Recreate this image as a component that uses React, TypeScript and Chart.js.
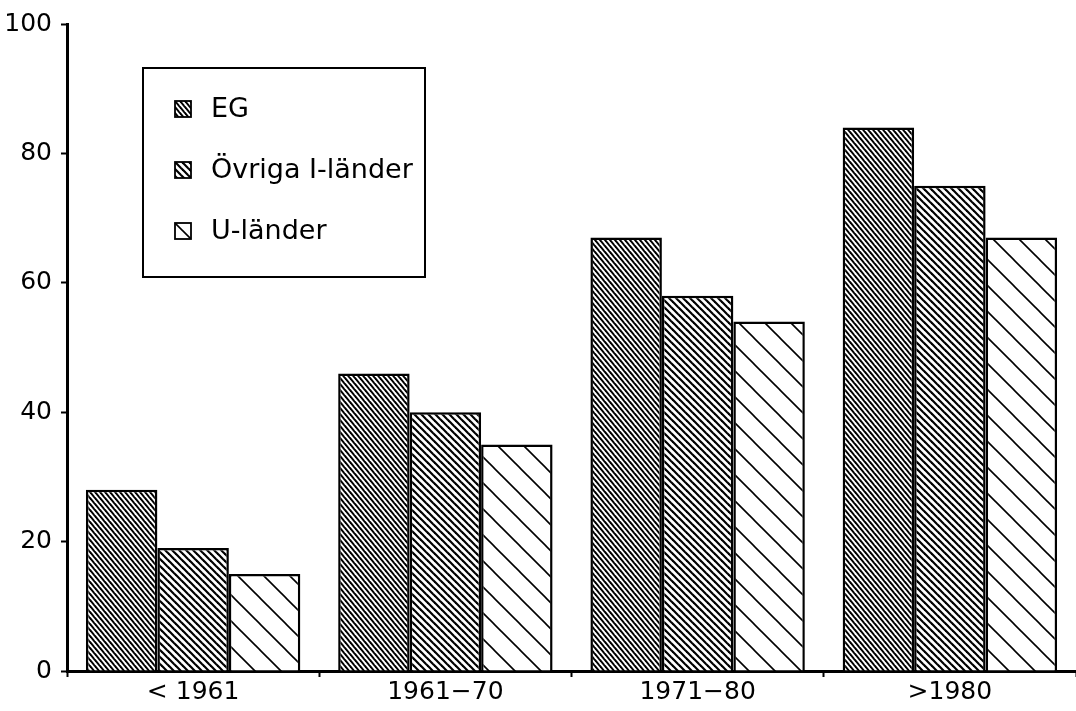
import React, { useEffect, useRef } from "react";
import { Chart, registerables } from "chart.js";

Chart.register(...registerables);

const categories = ["< 1961", "1961\u221270", "1971\u221280", ">1980"];
const seriesNames = ["EG", "Övriga I-länder", "U-länder"];
const egValues = [28, 46, 67, 84];
const ovrigaValues = [19, 40, 58, 75];
const ulanderValues = [15, 35, 54, 67];
const yTicks = [0, 20, 40, 60, 80, 100];

const FONT = "DejaVu Sans";

function makeHatch(w: number, h: number, lw: number): CanvasPattern | string {
  const c = document.createElement("canvas");
  c.width = w;
  c.height = h;
  const ctx = c.getContext("2d");
  if (!ctx) return "#fff";
  ctx.fillStyle = "#fff";
  ctx.fillRect(0, 0, w, h);
  ctx.strokeStyle = "#000";
  ctx.lineWidth = lw;
  ctx.lineCap = "square";
  for (const off of [-w, 0, w]) {
    ctx.beginPath();
    ctx.moveTo(off, 0);
    ctx.lineTo(off + w, h);
    ctx.stroke();
  }
  const p = ctx.createPattern(c, "repeat");
  return p || "#fff";
}

export default function App() {
  const ref = useRef<HTMLCanvasElement | null>(null);

  useEffect(() => {
    const canvas = ref.current;
    if (!canvas) return;
    const patterns = [makeHatch(5, 6, 2), makeHatch(7, 7, 2.2), makeHatch(26, 26, 1.6)];

    const legendPlugin = {
      id: "boxLegend",
      afterDraw(chart: any) {
        const ctx = chart.ctx as CanvasRenderingContext2D;
        ctx.save();
        const bx = 143, by = 68, bw = 282, bh = 209;
        ctx.fillStyle = "#fff";
        ctx.fillRect(bx, by, bw, bh);
        ctx.strokeStyle = "#000";
        ctx.lineWidth = 2;
        ctx.strokeRect(bx, by, bw, bh);
        const rows = [109, 170, 231];
        chart.data.datasets.forEach((ds: any, i: number) => {
          const sx = 175, sy = rows[i] - 8, s = 16;
          ctx.save();
          ctx.translate(sx, sy);
          ctx.fillStyle = ds.backgroundColor;
          ctx.fillRect(0, 0, s, s);
          ctx.strokeStyle = "#000";
          ctx.lineWidth = 1.8;
          ctx.strokeRect(0, 0, s, s);
          ctx.restore();
          ctx.fillStyle = "#000";
          ctx.font = `27px "${FONT}"`;
          ctx.textBaseline = "middle";
          ctx.textAlign = "left";
          ctx.fillText(ds.label, 211, rows[i] + 1);
        });
        ctx.restore();
      },
    };

    const chart = new Chart(canvas, {
      type: "bar",
      data: {
        labels: categories,
        datasets: [
          { label: seriesNames[0], data: egValues, backgroundColor: patterns[0] as any },
          { label: seriesNames[1], data: ovrigaValues, backgroundColor: patterns[1] as any },
          { label: seriesNames[2], data: ulanderValues, backgroundColor: patterns[2] as any },
        ],
      },
      options: {
        animation: false,
        responsive: false,
        maintainAspectRatio: false,
        devicePixelRatio: 1,
        layout: { padding: { top: 24, right: 0, left: 0, bottom: 0 } },
        datasets: {
          bar: {
            borderColor: "#000",
            borderWidth: 2.5,
            barPercentage: 1,
            categoryPercentage: 0.85,
          },
        },
        plugins: {
          legend: { display: false },
          tooltip: { enabled: false },
          title: { display: false },
        },
        scales: {
          x: {
            grid: {
              display: true,
              drawOnChartArea: false,
              drawTicks: true,
              tickLength: 6,
              tickColor: "#000",
              tickWidth: 2,
              offset: true,
            },
            border: { display: true, color: "#000", width: 3 },
            ticks: {
              color: "#000",
              font: { family: FONT, size: 25 },
              padding: 0,
              maxRotation: 0,
              autoSkip: false,
            },
            afterFit(scale: any) {
              scale.height = 40;
            },
          },
          y: {
            min: 0,
            max: 100,
            afterBuildTicks(scale: any) {
              scale.ticks = yTicks.map((v) => ({ value: v }));
            },
            grid: {
              display: true,
              drawOnChartArea: false,
              drawTicks: true,
              tickLength: 6,
              tickColor: "#000",
              tickWidth: 2,
            },
            border: { display: true, color: "#000", width: 3 },
            ticks: {
              color: "#000",
              font: { family: FONT, size: 25 },
              padding: 9,
            },
            afterFit(scale: any) {
              scale.width = 67;
            },
          },
        },
      },
      plugins: [legendPlugin],
    });
    return () => chart.destroy();
  }, []);

  return (
    <div style={{ position: "absolute", left: 0, top: 0, width: 1076, height: 711, background: "#fff" }}>
      <canvas ref={ref} width={1076} height={711} style={{ display: "block", width: 1076, height: 711 }} />
    </div>
  );
}
